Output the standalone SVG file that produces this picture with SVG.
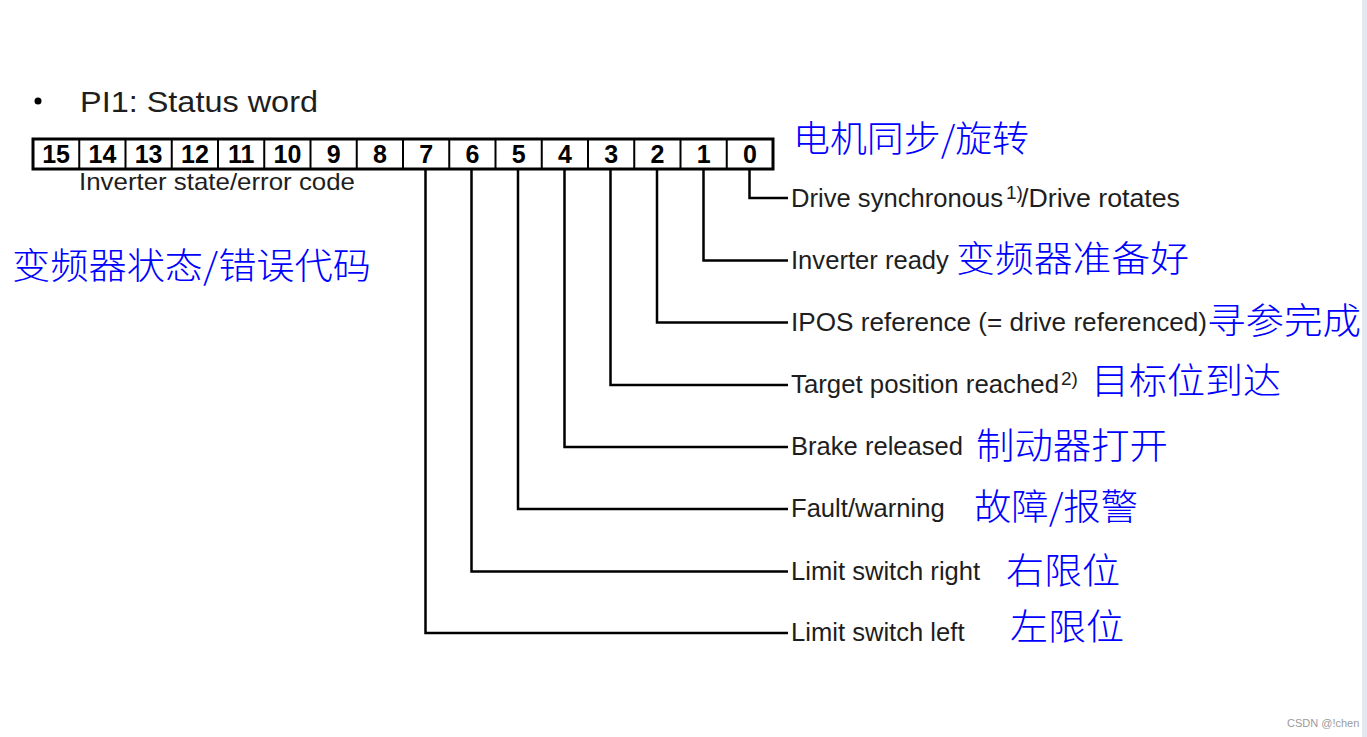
<svg xmlns="http://www.w3.org/2000/svg" width="1367" height="737" viewBox="0 0 1367 737">
<style>
.en{font-family:"Liberation Sans",Arial,sans-serif;font-size:25.6px;fill:#1e1e1e}
.sup{font-family:"Liberation Sans",Arial,sans-serif;font-size:19px;fill:#1e1e1e}
.cn{font-family:"Noto Sans CJK SC",sans-serif;font-size:36px;font-weight:300;fill:#0000ff}
.num{font-family:"Liberation Sans",Arial,sans-serif;font-size:25px;font-weight:bold;fill:#000;text-anchor:middle}
.cell{fill:none;stroke:#000;stroke-width:2}
.conn{fill:none;stroke:#000;stroke-width:2.5}
</style>
<rect width="1367" height="737" fill="#fff"/>
<rect x="1362" y="0" width="5" height="737" fill="#e3e9f0"/>
<g id="title">
<circle cx="38" cy="101" r="3.5" fill="#000"/>
<text x="80" y="112" class="en" style="font-size:30px" textLength="238" lengthAdjust="spacingAndGlyphs">PI1: Status word</text>
</g>
<g id="register">
<rect x="33" y="139" width="740" height="30" fill="#fff" stroke="#000" stroke-width="3"/>
<path class="cell" d="M79.25 139V169M125.5 139V169M171.75 139V169M218 139V169M264.25 139V169M310.5 139V169M356.75 139V169M403 139V169M449.25 139V169M495.5 139V169M541.75 139V169M588 139V169M634.25 139V169M680.5 139V169M726.75 139V169"/>
<text class="num" x="56.1" y="162.5">15</text>
<text class="num" x="102.4" y="162.5">14</text>
<text class="num" x="148.6" y="162.5">13</text>
<text class="num" x="194.9" y="162.5">12</text>
<text class="num" x="241.1" y="162.5">11</text>
<text class="num" x="287.4" y="162.5">10</text>
<text class="num" x="333.6" y="162.5">9</text>
<text class="num" x="379.9" y="162.5">8</text>
<text class="num" x="426.1" y="162.5">7</text>
<text class="num" x="472.4" y="162.5">6</text>
<text class="num" x="518.6" y="162.5">5</text>
<text class="num" x="564.9" y="162.5">4</text>
<text class="num" x="611.1" y="162.5">3</text>
<text class="num" x="657.4" y="162.5">2</text>
<text class="num" x="703.6" y="162.5">1</text>
<text class="num" x="749.9" y="162.5">0</text>
<text class="en" x="79" y="190" style="font-size:24px" textLength="276" lengthAdjust="spacingAndGlyphs">Inverter state/error code</text>
</g>
<g id="connectors">
<path class="conn" d="M749.5 169V198H788"/>
<path class="conn" d="M703.5 169V260.5H788"/>
<path class="conn" d="M657 169V322.5H788"/>
<path class="conn" d="M610.5 169V385H788"/>
<path class="conn" d="M564.5 169V447H788"/>
<path class="conn" d="M518 169V509H788"/>
<path class="conn" d="M471.5 169V571.5H788"/>
<path class="conn" d="M425.5 169V633H788"/>
</g>
<g id="cn-top"><text class="cn" x="793" y="152" textLength="236" lengthAdjust="spacingAndGlyphs">电机同步/旋转</text></g>
<g id="cn-left"><text class="cn" x="12" y="279" textLength="359" lengthAdjust="spacingAndGlyphs">变频器状态/错误代码</text></g>
<g id="bit0">
<text class="en" x="791" y="207" textLength="212" lengthAdjust="spacingAndGlyphs">Drive synchronous</text>
<text class="sup" x="1006" y="199">1)</text>
<text class="en" x="1021" y="207" textLength="159" lengthAdjust="spacingAndGlyphs">/Drive rotates</text>
</g>
<g id="bit1">
<text class="en" x="791" y="269">Inverter ready</text>
<text class="cn" x="956" y="272" textLength="233" lengthAdjust="spacingAndGlyphs">变频器准备好</text>
</g>
<g id="bit2">
<text class="en" x="791" y="331" textLength="416" lengthAdjust="spacingAndGlyphs">IPOS reference (= drive referenced)</text>
<text class="cn" x="1207" y="334" textLength="154" lengthAdjust="spacingAndGlyphs">寻参完成</text>
</g>
<g id="bit3">
<text class="en" x="791" y="393" textLength="268" lengthAdjust="spacingAndGlyphs">Target position reached</text>
<text class="sup" x="1061" y="385">2)</text>
<text class="cn" x="1091" y="394" textLength="190" lengthAdjust="spacingAndGlyphs">目标位到达</text>
</g>
<g id="bit4">
<text class="en" x="791" y="455" textLength="172" lengthAdjust="spacingAndGlyphs">Brake released</text>
<text class="cn" x="976" y="459" textLength="192" lengthAdjust="spacingAndGlyphs">制动器打开</text>
</g>
<g id="bit5">
<text class="en" x="791" y="517">Fault/warning</text>
<text class="cn" x="974" y="520" textLength="164" lengthAdjust="spacingAndGlyphs">故障/报警</text>
</g>
<g id="bit6">
<text class="en" x="791" y="580">Limit switch right</text>
<text class="cn" x="1006" y="584" textLength="114" lengthAdjust="spacingAndGlyphs">右限位</text>
</g>
<g id="bit7">
<text class="en" x="791" y="641">Limit switch left</text>
<text class="cn" x="1010" y="640" textLength="114" lengthAdjust="spacingAndGlyphs">左限位</text>
</g>
<text x="1287" y="727" style="font-family:'Liberation Sans',Arial,sans-serif;font-size:11px;fill:#9a9a9a">CSDN @!chen</text>
</svg>
